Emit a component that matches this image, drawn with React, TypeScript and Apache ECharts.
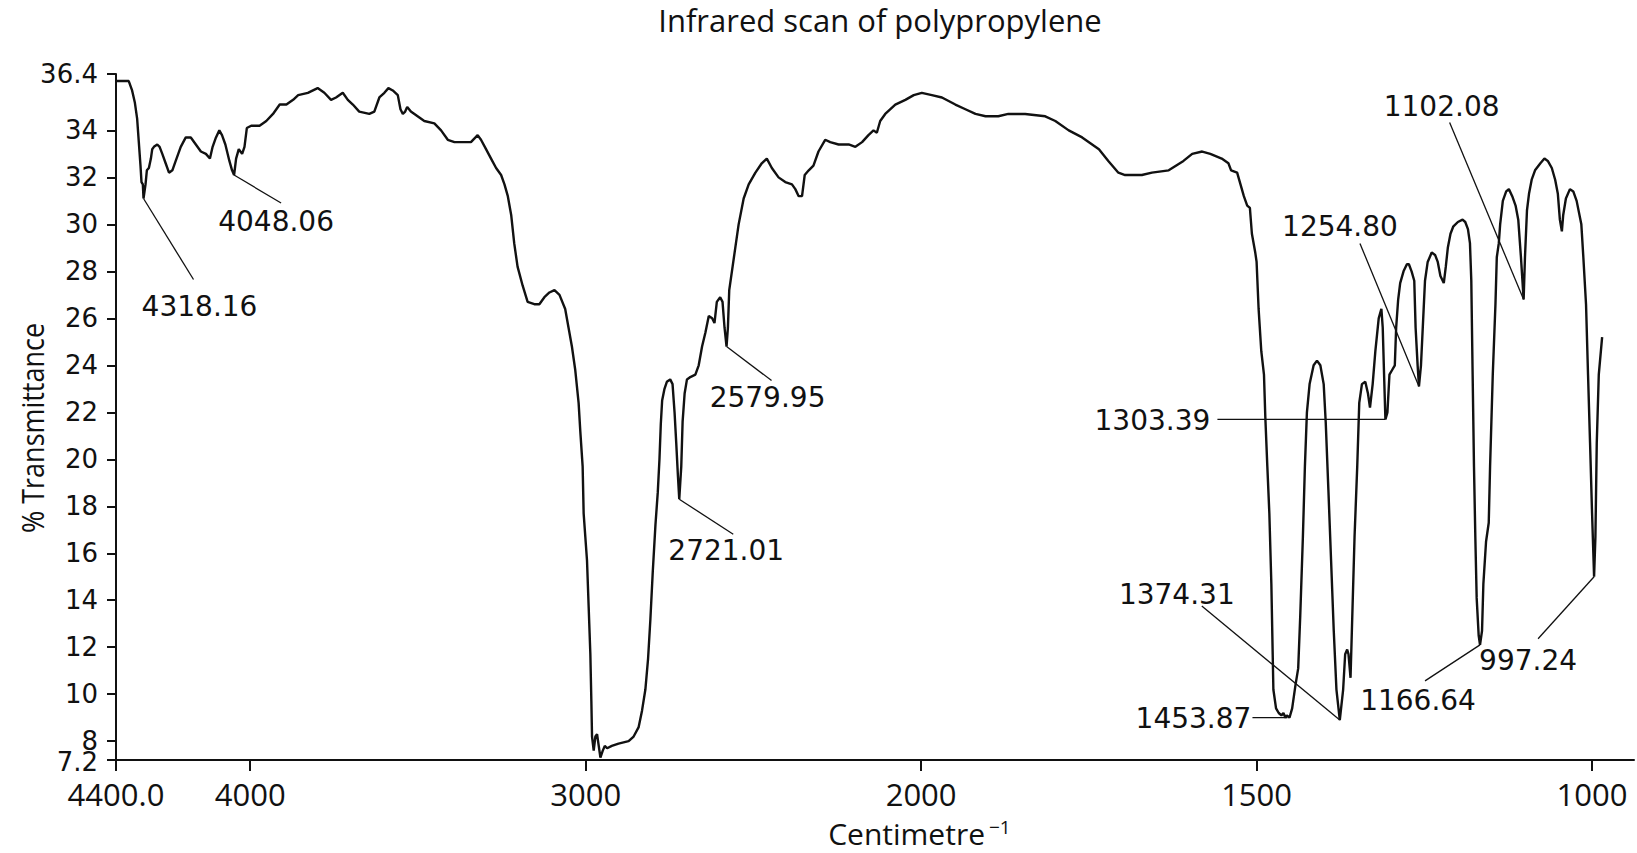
import React, { useEffect, useRef } from "react";
import * as echarts from "echarts";

// Infrared spectrum of polypropylene: [wavenumber (cm^-1), % transmittance]
const spectrum: [number, number][] = [
  [4400, 36.1], [4362, 36.1], [4352, 35.7], [4344, 35.2], [4337, 34.5], [4332, 33.5], [4327, 32.5], [4324, 31.8],
  [4320, 31.7], [4318, 31.1], [4312, 31.7], [4308, 32.3], [4302, 32.4], [4296, 32.8], [4292, 33.2], [4287, 33.3],
  [4277, 33.4], [4270, 33.3], [4262, 33.0], [4252, 32.6], [4242, 32.2], [4232, 32.3], [4222, 32.7], [4207, 33.3],
  [4192, 33.7], [4177, 33.7], [4162, 33.4], [4147, 33.1], [4132, 33.0], [4120, 32.8], [4112, 33.3], [4102, 33.7],
  [4092, 34.0], [4084, 33.8], [4074, 33.4], [4062, 32.7], [4054, 32.3], [4048, 32.1], [4042, 32.8], [4034, 33.2],
  [4024, 33.0], [4017, 33.3], [4010, 34.1], [3997, 34.2], [3972, 34.2], [3952, 34.4], [3932, 34.7], [3912, 35.1],
  [3892, 35.1], [3872, 35.3], [3857, 35.5],
  [3828, 35.6], [3799, 35.8], [3779, 35.6], [3759, 35.3], [3744, 35.4], [3724, 35.6], [3709, 35.3], [3694, 35.1],
  [3675, 34.8], [3645, 34.7], [3630, 34.8], [3615, 35.4], [3600, 35.6], [3588, 35.8], [3575, 35.7], [3560, 35.5],
  [3552, 34.9], [3545, 34.7], [3538, 34.8], [3532, 35.0], [3521, 34.8], [3501, 34.6], [3481, 34.4], [3451, 34.3],
  [3431, 34.0], [3411, 33.6], [3391, 33.5], [3362, 33.5], [3342, 33.5], [3322, 33.8], [3312, 33.6], [3297, 33.2],
  [3282, 32.8], [3267, 32.4], [3252, 32.1], [3242, 31.7], [3232, 31.2], [3222, 30.4], [3213, 29.2], [3203, 28.2],
  [3188, 27.4], [3173, 26.7], [3153, 26.6], [3138, 26.6], [3123, 26.9], [3108, 27.1], [3093, 27.2], [3078, 27.0],
  [3061, 26.4], [3051, 25.6], [3041, 24.8], [3031, 23.8], [3021, 22.4], [3016, 21.2], [3009, 19.7], [3006, 17.7],
  [3001, 16.7], [2996, 15.7], [2991, 13.7], [2986, 11.7], [2983, 9.7], [2981, 8.2], [2976, 7.6], [2971, 8.2],
  [2966, 8.3], [2961, 7.8], [2956, 7.3], [2949, 7.6], [2943, 7.8], [2936, 7.7], [2922, 7.8], [2902, 7.9],
  [2872, 8.0], [2857, 8.2], [2842, 8.6], [2832, 9.3], [2822, 10.2], [2814, 11.5], [2807, 13.2], [2800, 15.2],
  [2792, 17.2], [2785, 18.6], [2780, 20.0], [2776, 21.5], [2772, 22.5], [2765, 23.0], [2758, 23.3], [2748, 23.4],
  [2741, 23.2], [2735, 22.0], [2730, 20.7], [2725, 19.3], [2721, 18.3], [2715, 19.7], [2711, 21.6], [2705, 22.8],
  [2698, 23.4], [2688, 23.5], [2673, 23.6], [2663, 24.0], [2653, 24.8], [2643, 25.4], [2633, 26.1], [2623, 26.0],
  [2616, 25.8], [2609, 26.7], [2599, 26.9], [2592, 26.7], [2586, 25.6], [2580, 24.8], [2576, 25.6], [2572, 27.2],
  [2564, 28.0], [2554, 29.0], [2544, 30.0], [2529, 31.1], [2514, 31.7], [2494, 32.2], [2475, 32.6], [2460, 32.8],
  [2445, 32.4], [2425, 32.0], [2405, 31.8], [2385, 31.7], [2375, 31.5], [2365, 31.2], [2355, 31.2], [2347, 32.1],
  [2335, 32.3], [2321, 32.5], [2306, 33.1], [2286, 33.6], [2271, 33.5], [2246, 33.4], [2216, 33.4], [2196, 33.3],
  [2176, 33.5], [2157, 33.8], [2142, 34.0], [2132, 33.9], [2122, 34.4], [2107, 34.7], [2077, 35.1], [2047, 35.3],
  [2022, 35.5], [1999, 35.6], [1984, 35.5], [1969, 35.4], [1949, 35.1], [1934, 34.9], [1919, 34.7], [1904, 34.6],
  [1885, 34.6], [1870, 34.7], [1845, 34.7], [1815, 34.6], [1800, 34.4], [1780, 34.0], [1760, 33.7], [1735, 33.2],
  [1721, 32.7], [1706, 32.2], [1696, 32.1], [1681, 32.1], [1671, 32.1],
  [1656, 32.2], [1631, 32.3], [1609, 32.7], [1596, 33.0], [1581, 33.1], [1569, 33.0], [1552, 32.8], [1542, 32.6],
  [1538, 32.3], [1529, 32.2], [1524, 31.7], [1519, 31.2], [1514, 30.8], [1510, 30.7], [1507, 29.6], [1502, 28.8],
  [1500, 28.4], [1497, 26.4], [1493, 24.6], [1489, 23.6], [1487, 21.8], [1484, 19.7], [1481, 17.7], [1478, 14.7],
  [1476, 11.7], [1475, 10.2], [1471, 9.4], [1467, 9.2], [1463, 9.1], [1460, 9.2], [1457, 9.0], [1455, 9.1],
  [1451, 9.0], [1447, 9.4], [1442, 10.4], [1438, 11.1], [1435, 13.3], [1431, 16.7], [1428, 19.7], [1425, 22.0],
  [1421, 23.2], [1415, 24.0], [1410, 24.2], [1405, 24.0], [1400, 23.2], [1397, 21.6], [1393, 18.7], [1389, 15.7],
  [1385, 12.7], [1381, 10.2], [1376, 8.9], [1371, 10.2], [1368, 11.7], [1365, 11.9], [1363, 11.7], [1360, 10.7],
  [1358, 12.7], [1354, 16.7], [1350, 19.7], [1347, 22.4], [1343, 23.2], [1338, 23.3], [1334, 22.8], [1331, 22.2],
  [1327, 23.2], [1323, 24.6], [1318, 26.0], [1314, 26.4], [1312, 25.6], [1310, 23.6], [1308, 21.7], [1305, 22.0],
  [1302, 23.6], [1298, 23.8], [1294, 24.0], [1292, 25.6], [1289, 26.8], [1286, 27.5], [1281, 28.0], [1276, 28.3],
  [1273, 28.3], [1269, 28.0], [1265, 27.6], [1263, 25.6], [1260, 24.0], [1258, 23.1], [1255, 24.0], [1251, 26.4],
  [1249, 27.6], [1245, 28.4], [1239, 28.8], [1234, 28.7], [1230, 28.4], [1226, 27.8], [1221, 27.5], [1218, 28.2],
  [1215, 29.0], [1211, 29.6], [1207, 29.9], [1200, 30.1], [1193, 30.2], [1189, 30.1], [1185, 29.8], [1182, 29.2],
  [1180, 27.6], [1178, 23.6], [1176, 19.7], [1174, 16.7], [1172, 14.1], [1169, 12.5], [1167, 12.1], [1164, 12.7],
  [1162, 14.7], [1158, 16.5], [1154, 17.3], [1152, 19.7], [1148, 23.6], [1144, 26.6], [1142, 28.6], [1139, 29.2],
  [1137, 30.0], [1133, 31.0], [1128, 31.4], [1124, 31.5], [1119, 31.2], [1114, 30.8], [1110, 30.2], [1106, 28.6],
  [1102, 26.8], [1100, 28.6], [1097, 30.6], [1094, 31.3], [1090, 31.9], [1085, 32.3], [1077, 32.6], [1071, 32.8],
  [1066, 32.7], [1060, 32.4], [1055, 31.9], [1051, 31.3], [1048, 30.2], [1045, 29.7], [1043, 30.4], [1039, 31.1],
  [1033, 31.5], [1028, 31.4], [1023, 31.0], [1016, 30.0], [1013, 28.6], [1009, 26.6], [1006, 23.6], [1003, 20.7],
  [1000, 17.7], [997, 15.0], [995, 16.7], [993, 20.7], [990, 23.6], [985, 25.2],
];

// Axis ticks
const xTickWavenumbers = [4400, 4000, 3000, 2000, 1500, 1000];
const xTickLabels = ["4400.0", "4000", "3000", "2000", "1500", "1000"];
const yTickValues = [7.2, 8, 10, 12, 14, 16, 18, 20, 22, 24, 26, 28, 30, 32, 34, 36.4];
const yTickLabels = ["7.2", "8", "10", "12", "14", "16", "18", "20", "22", "24", "26", "28", "30", "32", "34", "36.4"];

// Peak annotations: label text, anchor wavenumber, anchor transmittance
const peakLabels = ["4318.16", "4048.06", "2721.01", "2579.95", "1303.39", "1254.80", "1102.08", "1374.31", "1453.87", "1166.64", "997.24"];
const peakWavenumbers = [4318, 4048, 2721, 2580, 1308, 1258, 1102, 1376, 1454, 1167, 997];
const peakTransmittance = [31.1, 32.1, 18.3, 24.8, 21.7, 23.1, 26.8, 8.9, 9.0, 12.1, 15.0];

// Layout of the annotation leader lines and labels (pixel offsets from the anchor)
const leaderEnds: [number, number][] = [
  [50, 81], [47, 28], [54, 35], [45, 34], [-168, 0], [-59, -143], [-74, -177], [-138, -114], [-35, 0], [-55, 36], [-56, 62],
];
const labelCenters: [number, number][] = [
  [56, 108], [42, 46], [47, 51], [41, 51], [-233, 1], [-79, -160], [-82, -193], [-163, -126], [-94, 1], [-62, 56], [-66, 84],
];

// The chart's wavenumber axis is compressed 2:1 above 2000 cm^-1
const toPos = (w: number) => (w >= 2000 ? 4400 - w : 2400 + 2 * (2000 - w));

const INK = "#111";
const SANS = "'Open Sans', 'Noto Sans', sans-serif";
const WIDE = "'DejaVu Sans', Verdana, sans-serif";
const Y_LABEL_MARGIN = 18;
const Y_LABEL_SIZE = 26;

export default function App() {
  const ref = useRef<HTMLDivElement>(null);

  useEffect(() => {
    if (!ref.current) return;
    const chart = echarts.init(ref.current, null, { renderer: "svg" });
    const xTickPos = xTickWavenumbers.map(toPos);

    chart.setOption({
      animation: false,
      backgroundColor: "#ffffff",
      grid: { left: 116, top: 74, width: 1518, height: 686, containLabel: false },
      xAxis: {
        type: "value",
        min: 0,
        max: 4525,
        axisLine: { show: true, onZero: false, lineStyle: { color: INK, width: 2 } },
        axisTick: { show: true, customValues: xTickPos, length: 11, lineStyle: { color: INK, width: 2 } },
        axisLabel: {
          customValues: xTickPos,
          formatter: (val: number) => {
            const i = xTickPos.findIndex((p) => Math.abs(p - val) < 0.5);
            return i >= 0 ? xTickLabels[i] : "";
          },
          showMinLabel: true,
          showMaxLabel: true,
          hideOverlap: false,
          fontFamily: SANS,
          fontSize: 31,
          color: INK,
          margin: 18,
        },
        splitLine: { show: false },
      },
      yAxis: {
        type: "value",
        min: 7.2,
        max: 36.4,
        axisLine: { show: true, lineStyle: { color: INK, width: 2 } },
        axisTick: { show: true, customValues: yTickValues, length: 9, lineStyle: { color: INK, width: 2 } },
        axisLabel: {
          // the bottom "7.2" label is drawn separately below (ECharts hides one of two crowded labels)
          customValues: yTickValues.slice(1),
          formatter: (val: number) => {
            const i = yTickValues.findIndex((v) => Math.abs(v - val) < 0.01);
            return i >= 0 ? yTickLabels[i] : "";
          },
          showMinLabel: true,
          showMaxLabel: true,
          hideOverlap: false,
          fontFamily: WIDE,
          fontSize: Y_LABEL_SIZE,
          lineHeight: 20,
          color: INK,
          margin: Y_LABEL_MARGIN,
        },
        splitLine: { show: false },
      },
      series: [
        {
          type: "line",
          data: spectrum.map(([w, t]) => [toPos(w), t]),
          showSymbol: false,
          symbol: "none",
          silent: true,
          lineStyle: { color: INK, width: 2.4 },
        },
      ],
    });

    const [minX, minY] = chart.convertToPixel({ seriesIndex: 0 }, [0, yTickValues[0]]) as number[];

    const elements: any[] = [
      {
        type: "text",
        x: minX - Y_LABEL_MARGIN,
        y: minY + 2,
        style: {
          text: yTickLabels[0],
          fontFamily: WIDE,
          fontSize: Y_LABEL_SIZE,
          lineHeight: 20,
          fill: INK,
          align: "right",
          verticalAlign: "middle",
        },
      },
      {
        type: "text",
        x: 880,
        y: 20,
        style: { text: "Infrared scan of polypropylene", fontFamily: SANS, fontSize: 31, fill: INK, align: "center", verticalAlign: "middle" },
      },
      {
        type: "text",
        x: 32,
        y: 428,
        rotation: Math.PI / 2,
        scaleX: 0.87,
        style: {
          text: "% Transmittance",
          fontFamily: SANS,
          fontSize: 31,
          fill: INK,
          align: "center",
          verticalAlign: "middle",
        },
      },
      {
        type: "text",
        x: 985,
        y: 833,
        style: { text: "Centimetre", fontFamily: SANS, fontSize: 30, fill: INK, align: "right", verticalAlign: "middle" },
      },
      {
        type: "text",
        x: 989,
        y: 827,
        style: { text: "\u22121", fontFamily: SANS, fontSize: 19, fill: INK, align: "left", verticalAlign: "middle" },
      },
    ];

    peakLabels.forEach((label, i) => {
      const [ax, ay] = chart.convertToPixel({ seriesIndex: 0 }, [toPos(peakWavenumbers[i]), peakTransmittance[i]]) as number[];
      const [lx, ly] = leaderEnds[i];
      const [tx, ty] = labelCenters[i];
      elements.push({
        type: "line",
        shape: { x1: ax, y1: ay, x2: ax + lx, y2: ay + ly },
        style: { stroke: INK, lineWidth: 1.3 },
        silent: true,
      });
      elements.push({
        type: "text",
        x: ax + tx,
        y: ay + ty,
        style: { text: label, fontFamily: WIDE, fontSize: 28, fill: INK, align: "center", verticalAlign: "middle" },
        silent: true,
      });
    });

    chart.setOption({ graphic: { elements } });

    return () => chart.dispose();
  }, []);

  return (
    <div
      ref={ref}
      style={{ position: "fixed", left: 0, top: 0, width: 1637, height: 853, background: "#fff" }}
    />
  );
}
